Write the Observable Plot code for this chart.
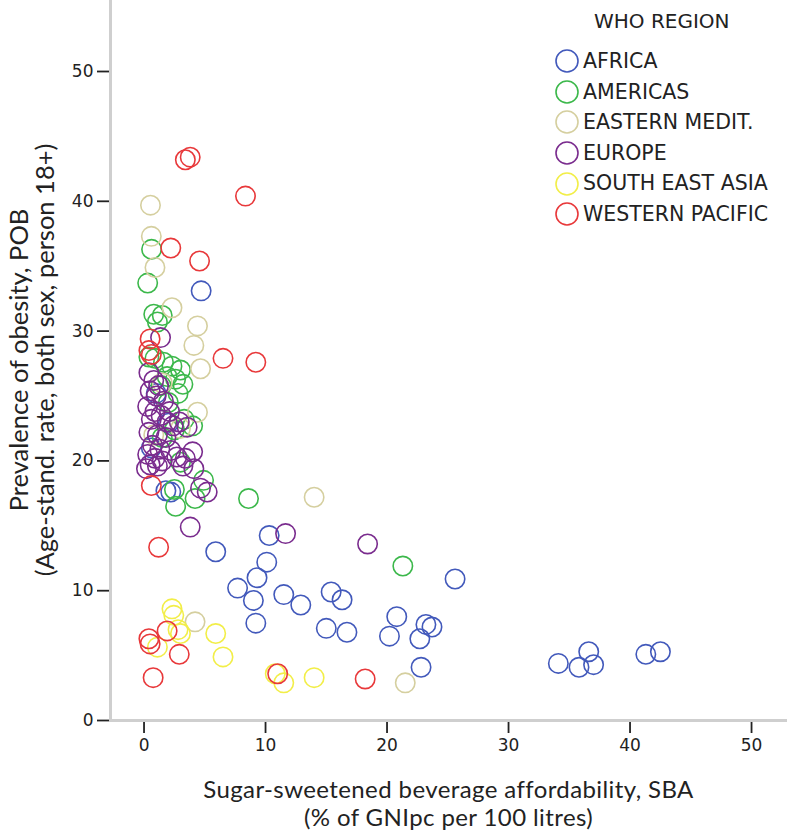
<!DOCTYPE html>
<html>
<head>
<meta charset="utf-8">
<script src="https://cdn.jsdelivr.net/npm/d3@7"></script>
<script src="https://cdn.jsdelivr.net/npm/@observablehq/plot@0.6"></script>
<style>
  html, body { margin: 0; padding: 0; background: #fff; }
  #wrap { position: relative; width: 787px; height: 832px; overflow: hidden; }
  #wrap > svg { position: absolute; left: 0; top: 0; }
  .lg-title { position: absolute; left: 594px; top: 11px; font: 20px "DejaVu Sans"; line-height: 1; color: #222; white-space: nowrap; }
  .lg { position: absolute; left: 555px; top: 46px; font: 20.5px "DejaVu Sans"; line-height: 1; color: #222; }
  .lg-row { display: flex; align-items: center; height: 30.6px; white-space: nowrap; }
  .lg-row svg { display: block; margin-right: 4px; flex: none; }
  .xt { position: absolute; left: 110px; width: 677px; top: 775px; text-align: center; font: 24px Lato; letter-spacing: 0.4px; color: #222; }
  .xt div { height: 28px; line-height: 28px; white-space: nowrap; }
  .yt { position: absolute; left: 0; top: 0; width: 720px; text-align: center; font: 25.5px Lato; color: #222;
        transform-origin: 0 0; transform: translate(5px, 720px) rotate(-90deg); }
  .yt div { height: 26px; line-height: 26px; white-space: nowrap; }
</style>
</head>
<body>
<div id="wrap"></div>
<script>
// WHO regions and colours
const regions = ["AFRICA", "AMERICAS", "EASTERN MEDIT.", "EUROPE", "SOUTH EAST ASIA", "WESTERN PACIFIC"];
const regionColors = ["#4259bb", "#3cb84b", "#d5cf9f", "#7a2c8e", "#f2ee48", "#e8383a"];

// [SBA, POB] pairs per region
const africa = [[4.7,33.1],[1.8,17.7],[2.2,17.6],[5.9,13.0],[10.3,14.25],[10.1,12.2],[9.3,11.0],[7.7,10.2],[9.0,9.25],
  [11.5,9.7],[12.9,8.9],[9.2,7.5],[15.4,9.9],[16.3,9.3],[15.0,7.1],[16.7,6.8],[20.2,6.5],[20.8,8.0],[22.7,6.3],[23.2,7.4],
  [23.7,7.2],[22.8,4.1],[25.6,10.9],[34.1,4.4],[35.8,4.1],[36.6,5.3],[37.0,4.3],[41.3,5.1],[42.5,5.3],[1.0,25.2],[2.0,22.9],[0.6,21.0]];
const americas = [[0.62,36.3],[0.3,33.7],[0.8,31.3],[1.5,31.2],[1.1,30.7],[0.4,28.0],[0.9,27.9],[1.6,27.6],[2.3,27.3],[3.0,27.0],
  [2.6,26.3],[1.9,26.5],[1.4,25.8],[3.2,25.9],[2.8,25.2],[2.0,24.5],[3.3,23.2],[4.0,22.7],[2.5,22.4],[4.9,18.5],[4.2,17.1],
  [2.6,16.5],[8.6,17.1],[21.3,11.9],[2.5,17.8],[1.5,21.8],[3.0,19.9]];
const easternMedit = [[0.53,39.7],[0.6,37.3],[0.9,34.9],[2.3,31.8],[4.4,30.4],[4.1,28.9],[4.65,27.1],[4.4,23.75],[14.0,17.2],
  [4.2,7.6],[21.5,2.9],[1.5,26.0],[0.8,22.0],[3.0,22.5]];
const europe = [[1.36,29.5],[0.4,26.8],[0.8,26.2],[1.2,25.8],[0.5,25.4],[1.0,25.0],[1.6,24.6],[0.3,24.2],[0.9,23.8],[1.4,23.5],
  [0.6,23.2],[1.9,23.0],[2.4,22.7],[3.55,22.6],[0.4,22.2],[1.1,22.0],[0.7,21.2],[1.3,20.9],[0.3,20.5],[0.9,20.2],[1.5,20.0],
  [0.5,19.7],[0.2,19.4],[1.1,19.6],[2.7,20.3],[3.4,20.2],[4.0,20.7],[4.1,19.4],[3.2,19.6],[2.2,20.8],[5.2,17.6],[4.65,17.9],
  [3.8,14.9],[11.65,14.4],[18.4,13.6],[1.8,21.8],[2.1,23.8],[2.9,23.0]];
const southEastAsia = [[2.3,8.6],[2.45,8.1],[5.9,6.7],[3.0,6.7],[1.1,5.65],[6.5,4.9],[10.8,3.6],[11.5,2.9],[14.0,3.3],[2.8,7.0]];
const westernPacific = [[3.4,43.2],[3.8,43.4],[8.35,40.4],[2.2,36.4],[4.57,35.4],[0.5,29.4],[0.4,28.5],[0.6,28.2],[6.5,27.9],
  [9.2,27.6],[0.6,18.1],[1.2,13.35],[1.9,6.9],[0.4,6.3],[0.5,5.9],[2.9,5.1],[0.75,3.3],[11.0,3.6],[18.2,3.2]];

const xTicks = [0, 10, 20, 30, 40, 50];
const yTicks = [0, 10, 20, 30, 40, 50];
const xTitle = ["Sugar-sweetened beverage affordability, SBA", "(% of GNIpc per 100 litres)"];
const yTitle = ["Prevalence of obesity, POB", "(Age-stand. rate, both sex, person 18+)"];
const legendTitle = "WHO REGION";

const series = [africa, americas, easternMedit, europe, southEastAsia, westernPacific];
const rows = series.flatMap((arr, i) => arr.map(([sba, pob]) => ({sba, pob, region: regions[i]})));

const chart = Plot.plot({
  width: 787, height: 832,
  marginLeft: 110, marginRight: 0, marginTop: 0, marginBottom: 112,
  style: {fontFamily: "DejaVu Sans", fontSize: "17px", color: "#222", background: "white"},
  x: {domain: [-2.76, 52.96]},
  y: {domain: [0, 55.47]},
  color: {domain: regions, range: regionColors},
  marks: [
    Plot.axisX({ticks: xTicks, tickSize: 13, tickPadding: 5, strokeWidth: 1.8, label: null, fill: "#222"}),
    Plot.axisY({ticks: yTicks, tickSize: 13, tickPadding: 4, strokeWidth: 1.8, label: null, fill: "#222"}),
    Plot.dot(rows, {x: "sba", y: "pob", stroke: "region", r: 9.7, strokeWidth: 1.6, fill: "none"}),
    Plot.frame({anchor: "left", stroke: "#cfcfcf", strokeWidth: 3, strokeOpacity: 1}),
    Plot.frame({anchor: "bottom", stroke: "#cfcfcf", strokeWidth: 3, strokeOpacity: 1})
  ]
});

const wrap = document.getElementById("wrap");
wrap.appendChild(chart);

const lt = document.createElement("div");
lt.className = "lg-title";
lt.textContent = legendTitle;
wrap.appendChild(lt);

const lg = document.createElement("div");
lg.className = "lg";
regions.forEach((r, i) => {
  const row = document.createElement("div");
  row.className = "lg-row";
  row.innerHTML = `<svg width="24" height="24"><circle cx="12" cy="12" r="11" fill="none" stroke="${regionColors[i]}" stroke-width="1.6"/></svg><span>${r}</span>`;
  lg.appendChild(row);
});
wrap.appendChild(lg);

const xt = document.createElement("div");
xt.className = "xt";
xTitle.forEach(t => { const d = document.createElement("div"); d.textContent = t; xt.appendChild(d); });
wrap.appendChild(xt);

const yt = document.createElement("div");
yt.className = "yt";
yTitle.forEach(t => { const d = document.createElement("div"); d.textContent = t; yt.appendChild(d); });
wrap.appendChild(yt);
</script>
</body>
</html>
